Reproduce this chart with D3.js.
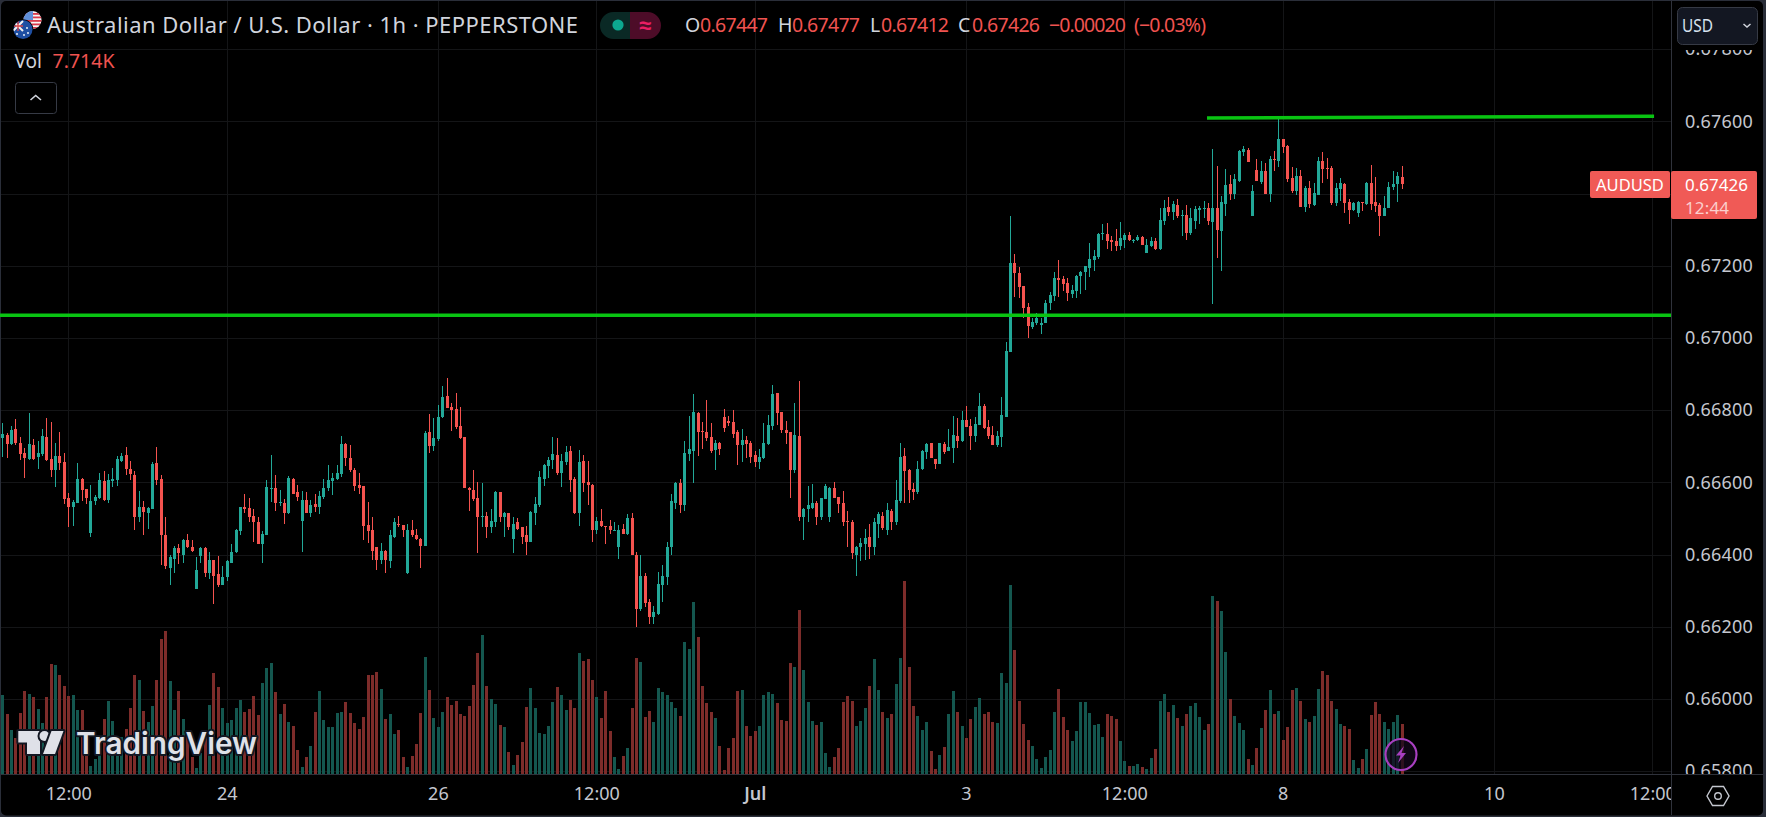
<!DOCTYPE html>
<html><head><meta charset="utf-8">
<style>
html,body{margin:0;padding:0;background:#2a2e39;overflow:hidden}
svg{display:block}
text{font-family:"Noto Sans",sans-serif}
</style>
<script src="https://cdnjs.cloudflare.com/ajax/libs/d3/7.8.5/d3.min.js"></script>
</head><body><svg id="c" width="1766" height="817"></svg>
<script>
// Prices are in points (1 point = 0.00001)
const highs=[66765,66737,66756,66776,66726,66696,66792,66720,66715,66748,66778,66767,66709,66740,66682,66571,66552,66654,66613,66582,66593,66566,66627,66632,66624,66640,66673,66682,66698,66660,66632,66577,66549,66533,66657,66698,66621,66505,66400,66425,66428,66444,66458,66439,66392,66420,66420,66408,66386,66397,66367,66386,66428,66472,66533,66569,66558,66527,66505,66466,66607,66676,66621,66580,66555,66618,66613,66593,66577,66574,66552,66569,66577,66610,66649,66627,66649,66729,66709,66704,66640,66627,66591,66546,66505,66422,66431,66414,66469,66502,66508,66483,66486,66497,66472,66447,66742,66789,66778,66814,
66867,66889,66820,66848,66809,66726,66588,66635,66602,66599,66519,66527,66577,66574,66519,66516,66503,66500,66475,66478,66522,66560,66632,66652,66671,66726,66723,66679,66701,66701,66616,66690,66676,66660,66596,66503,66525,66480,66497,66491,66483,66486,66511,66516,66406,66398,66348,66276,66257,66351,66370,66436,66569,66602,66610,66715,66784,66845,66795,66767,66828,66765,66718,66712,66803,66784,66801,66745,66748,66729,66715,66687,66693,66765,66787,66870,66848,66795,66770,66740,66820,66881,66530,66591,66596,66547,66558,66596,66588,66602,66560,66577,66522,66497,66425,66445,66472,66486,66500,66519,
66518,66543,66526,66606,66709,66695,66637,66598,66659,66689,66709,66709,66664,66709,66711,66747,66783,66778,66797,66811,66775,66780,66847,66816,66772,66755,66742,66836,66990,67338,67233,67197,67145,67098,67056,67070,67056,67106,67128,67183,67216,67172,67167,67147,67175,67186,67200,67263,67244,67291,67316,67319,67283,67302,67321,67291,67294,67274,67285,
67282,67273,67279,67276,67359,67382,67390,67379,67384,67354,67368,67359,67365,67365,67379,67373,67523,67476,67393,67468,67451,67454,67520,67531,67526,67423,67495,67490,67484,67504,67517,67609,67551,67534,67473,67470,67465,67420,67434,67429,67501,67515,67498,67476,67429,67443,67429,67384,67376,67379,67376,67431,67479,67445,67373,67393,67431,67462,67459,67477];
const lows=[66671,66668,66704,66704,66662,66613,66662,66662,66638,66673,66660,66615,66588,66635,66541,66475,66480,66544,66549,66541,66450,66538,66555,66549,66544,66588,66591,66657,66621,66607,66469,66489,66455,66472,66527,66593,66370,66359,66317,66350,66373,66378,66417,66408,66306,66378,66337,66331,66262,66309,66315,66328,66378,66403,66453,66516,66491,66436,66428,66378,66455,66546,66522,66535,66486,66513,66569,66549,66408,66516,66505,66519,66511,66555,66577,66566,66607,66615,66646,66629,66577,66569,66439,66431,66384,66356,66373,66350,66364,66447,66477,66450,66345,66450,66439,66362,66425,66682,66687,66715,
66779,66806,66743,66748,66721,66583,66522,66549,66403,66475,66445,66461,66475,66491,66450,66467,66403,66467,66428,66400,66436,66483,66533,66591,66613,66638,66621,66588,66649,66574,66511,66480,66574,66536,66434,66458,66475,66428,66458,66464,66389,66456,66453,66398,66199,66243,66254,66207,66207,66232,66268,66315,66398,66527,66516,66522,66660,66599,66674,66693,66715,66682,66635,66676,66740,66756,66723,66649,66657,66668,66654,66643,66638,66665,66704,66745,66759,66737,66707,66558,66627,66494,66439,66491,66527,66483,66497,66555,66491,66558,66516,66478,66422,66387,66342,66381,66384,66387,66398,66447,
66468,66454,66468,66482,66543,66543,66543,66551,66568,66634,66664,66667,66637,66651,66678,66686,66653,66695,66711,66753,66689,66711,66758,66747,66720,66703,66698,66698,66780,66960,67114,67111,67056,67001,67026,67037,67012,67040,67076,67103,67114,67131,67103,67111,67111,67123,67134,67169,67186,67219,67272,67247,67241,67241,67244,67250,67269,67263,67269,
67257,67234,67251,67243,67243,67312,67337,67326,67332,67282,67271,67284,67301,67315,67332,67312,67093,67221,67184,67337,67382,67384,67431,67504,67487,67337,67434,67426,67398,67376,67462,67473,67512,67431,67401,67395,67362,67348,67359,67365,67395,67429,67440,67368,67365,67379,67345,67315,67351,67334,67351,67368,67354,67348,67282,67337,67359,67409,67376,67412];
const opens=[66723,66731,66707,66748,66709,66682,66665,66704,66671,66679,66726,66665,66635,66673,66657,66558,66533,66544,66610,66582,66461,66549,66558,66604,66552,66604,66607,66660,66676,66638,66621,66505,66533,66516,66527,66654,66610,66455,66364,66389,66417,66400,66439,66422,66306,66395,66417,66348,66384,66345,66317,66337,66378,66406,66464,66533,66530,66508,66489,66428,66455,66582,66585,66544,66544,66516,66610,66574,66494,66552,66516,66541,66533,66560,66585,66604,66610,66624,66707,66668,66635,66593,66591,66483,66469,66420,66386,66411,66381,66450,66486,66483,66350,66469,66455,66444,66425,66740,66701,66720,
66781,66839,66809,66803,66756,66726,66585,66580,66558,66505,66508,66475,66491,66574,66503,66516,66442,66489,66475,66453,66436,66516,66538,66610,66646,66663,66676,66627,66657,66687,66610,66514,66660,66602,66594,66469,66494,66480,66480,66464,66422,66472,66458,66500,66400,66249,66340,66268,66227,66235,66315,66337,66420,66544,66599,66536,66679,66687,66792,66743,66740,66726,66690,66710,66781,66770,66767,66740,66704,66718,66710,66676,66657,66668,66707,66756,66848,66795,66745,66740,66635,66729,66503,66525,66530,66544,66505,66555,66505,66585,66560,66544,66494,66491,66400,66422,66428,66450,66422,66486,
66507,66468,66521,66490,66548,66673,66634,66582,66573,66637,66684,66709,66664,66651,66706,66686,66695,66728,66714,66772,66755,66728,66758,66811,66753,66731,66703,66725,66780,66962,67208,67181,67145,67087,67031,67040,67037,67040,67098,67117,67167,67164,67153,67123,67131,67172,67183,67194,67216,67225,67288,67288,67272,67269,67255,67272,67285,67271,67272,
67279,67234,67254,67268,67246,67323,67362,67348,67368,67337,67340,67290,67323,67354,67357,67359,67320,67359,67295,67370,67426,67398,67434,67515,67520,67337,67465,67431,67462,67398,67495,67490,67551,67531,67443,67406,67448,67362,67415,67368,67395,67490,67470,67470,67373,67412,67426,67376,67354,67345,67376,67370,67429,67376,67368,67337,67359,67418,67426,67447];
const closes=[66734,66707,66745,66709,66679,66668,66707,66665,66682,66729,66662,66635,66673,66654,66555,66533,66546,66610,66580,66558,66549,66560,66607,66552,66607,66610,66665,66673,66638,66624,66505,66533,66519,66530,66651,66607,66453,66367,66392,66417,66403,66439,66422,66411,66356,66417,66348,66386,66342,66317,66339,66381,66408,66469,66533,66527,66505,66489,66428,66458,66588,66585,66544,66546,66516,66613,66569,66560,66552,66516,66538,66533,66563,66585,66607,66613,66627,66707,66668,66635,66591,66585,66480,66466,66411,66386,66411,66384,66453,66489,66483,66469,66469,66453,66442,66425,66737,66701,66723,66781,
66836,66806,66801,66754,66723,66583,66580,66555,66503,66508,66475,66494,66574,66505,66516,66475,66486,66472,66450,66436,66519,66541,66616,66649,66663,66679,66627,66660,66685,66607,66514,66657,66599,66594,66469,66494,66478,66478,66467,66469,66469,66458,66500,66400,66249,66340,66265,66227,66240,66318,66342,66422,66549,66599,66538,66682,66693,66795,66740,66740,66723,66687,66710,66693,66751,66765,66734,66704,66718,66707,66671,66657,66671,66710,66759,66845,66792,66745,66737,66635,66732,66503,66525,66536,66544,66505,66558,66591,66585,66558,66541,66491,66489,66403,66422,66431,66447,66422,66489,66511,
66473,66523,66490,66551,66670,66631,66579,66573,66637,66686,66706,66667,66651,66709,66684,66697,66731,66714,66772,66753,66728,66761,66811,66750,66728,66703,66728,66786,66965,67208,67181,67142,67084,67034,67045,67054,67040,67098,67120,67167,67161,67150,67125,67134,67172,67183,67200,67219,67227,67288,67291,67269,67266,67255,67277,67285,67272,67272,67280,
67257,67257,67268,67246,67326,67359,67348,67370,67337,67340,67290,67332,67357,67359,67359,67323,67359,67298,67376,67423,67398,67440,67517,67523,67487,67406,67434,67462,67398,67495,67492,67551,67529,67440,67406,67448,67362,67415,67370,67401,67490,67468,67468,67373,67415,67429,67373,67354,67373,67376,67373,67429,67370,67365,67337,67359,67418,67426,67448,67426];
const volumes=[9480,7200,5280,4320,7320,9960,9600,9240,7800,6120,9240,13200,13080,11880,10560,9360,9480,7680,7680,5280,960,1800,2400,6600,8760,6360,4000,4400,5400,7920,11880,11280,7560,6240,8160,11280,16200,17160,11160,7680,9960,6600,5200,2000,720,2480,4400,8280,12120,10440,7920,6120,6480,7920,8880,7440,7800,9360,7080,10920,12720,13320,9840,7200,8400,6240,5760,2880,840,2040,3360,7440,9960,6480,5640,5640,7320,7440,8640,7320,6120,5400,6840,11880,11880,12240,10200,6600,7200,4800,5280,2040,840,2160,3600,7320,14040,10080,6720,5640,7440,9240,
8280,8760,7200,6960,8160,10680,14520,16680,10560,9000,8400,5880,5640,2640,1080,2280,3840,8040,10320,7920,4920,4800,5760,8640,10440,9480,7680,8880,7920,14520,13560,13800,11280,9240,6720,9960,5160,2040,600,2160,3120,7920,13920,13440,6840,7560,6240,10320,9840,9480,8640,7920,6960,15840,15000,20640,16440,10560,8520,7440,6720,3360,480,3120,4320,9960,10080,5760,4560,5160,5760,9480,9840,9600,8520,6480,6360,13320,12840,19680,12480,8640,6360,5880,6240,2520,840,2040,3120,8640,9360,8760,5760,6360,7920,10560,13800,10080,7440,6720,7200,10800,13920,
23160,12840,8160,6960,5280,6240,2760,600,2280,3240,7200,9960,7440,5760,4320,6600,8040,9120,7200,7440,6240,6120,12120,10920,22680,14880,8760,6000,4080,3360,1800,720,2040,2880,7440,10200,6840,5280,3960,5160,8640,8640,7320,5880,6000,4440,7200,6960,6600,3960,1560,960,960,1200,840,600,1920,3000,8760,9600,7440,8280,6720,5760,7200,8160,8520,6840,5280,6000,21360,20760,19560,14640,9000,6960,6120,5280,1800,1080,3120,5520,7680,10080,7200,7560,4080,5640,10080,10320,8760,6600,6240,6960,10200,12360,11880,8760,7800,6000,5760,5400,1680,720,1800,3000,7080,8640,7200,6240,5400,6240,7080,6000];
const priceTicks=[67800,67600,67400,67200,67000,66800,66600,66400,66200,66000,65800];
const priceLabelTicks=[67800,67600,67200,67000,66800,66600,66400,66200,66000,65800];
const timeTickIndex=[15,51,99,135,171,219,255,291,339,375];
const timeTickLabels=["12:00","24","26","12:00","Jul","3","12:00","8","10","12:00"];
const resistanceBars=[273.8,375.4], resistancePrices=[67609,67614];
const supportBars=[-1,380], supportPrices=[67063,67063];
const legendValues=["0.67447","0.67477","0.67412","0.67426"];

const UP="#22a898",DOWN="#f5534f",VUP="#14574f",VDOWN="#7d2c2a",GRID="#141517",LINE="#2f323b",TXT="#d1d4dc",LINEG="#09c412";
const svg=d3.select("#c");
const x=d3.scaleLinear().domain([0,375]).range([2.3,1652.3]);
const y=d3.scaleLinear().domain([65800,67600]).range([771.2,121.3]);
const v=d3.scaleLinear().domain([0,24000]).range([774,574]);
const px=i=>Math.round(x(i));
const W=1671,H=774;

const defs=svg.append("defs");
defs.append("clipPath").attr("id","pane").append("rect").attr("width",W).attr("height",H);
defs.append("clipPath").attr("id","pr").append("rect").attr("x",W).attr("y",50).attr("width",92).attr("height",H-50);
defs.append("clipPath").attr("id","tm").append("rect").attr("y",H).attr("width",W).attr("height",40);
defs.append("clipPath").attr("id","us").append("circle").attr("cx",32.5).attr("cy",20).attr("r",9);
defs.append("clipPath").attr("id","au").append("circle").attr("cx",23).attr("cy",29.5).attr("r",9.5);

svg.append("rect").attr("x",1).attr("y",1).attr("width",1762).attr("height",814.5).attr("rx",5).attr("fill","#000");

const crisp=svg.append("g").attr("shape-rendering","crispEdges");
crisp.selectAll(".gh").data(priceTicks).join("line").attr("x1",1).attr("x2",W).attr("y1",d=>Math.round(y(d))+.5).attr("y2",d=>Math.round(y(d))+.5).attr("stroke",GRID);
crisp.selectAll(".gv").data(timeTickIndex).join("line").attr("y1",1).attr("y2",H).attr("x1",d=>px(d)+.5).attr("x2",d=>px(d)+.5).attr("stroke",GRID);

const idx=d3.range(closes.length);
const isUp=i=>closes[i]>=opens[i];
const pane=svg.append("g").attr("clip-path","url(#pane)").attr("shape-rendering","crispEdges");
pane.selectAll(".vol").data(idx).join("rect").attr("x",i=>px(i)-1).attr("width",3)
  .attr("y",i=>Math.round(v(volumes[i]))).attr("height",i=>H-Math.round(v(volumes[i]))).attr("fill",i=>isUp(i)?VUP:VDOWN);
pane.selectAll(".wick").data(idx).join("rect").attr("x",i=>px(i)).attr("width",1)
  .attr("y",i=>Math.round(y(highs[i]))).attr("height",i=>Math.max(1,Math.round(y(lows[i]))-Math.round(y(highs[i])))).attr("fill",i=>isUp(i)?UP:DOWN);
pane.selectAll(".body").data(idx).join("rect").attr("x",i=>px(i)-1).attr("width",3)
  .attr("y",i=>Math.round(y(Math.max(opens[i],closes[i]))))
  .attr("height",i=>Math.max(1,Math.round(y(Math.min(opens[i],closes[i])))-Math.round(y(Math.max(opens[i],closes[i])))))
  .attr("fill",i=>isUp(i)?UP:DOWN);

const trend=d3.line().x(d=>x(d[0])).y(d=>y(d[1]));
const lines=svg.append("g").attr("clip-path","url(#pane)").attr("fill","none").attr("stroke",LINEG).attr("stroke-width",3.4);
lines.append("path").attr("d",trend(d3.zip(resistanceBars,resistancePrices)));
lines.append("path").attr("d",trend(d3.zip(supportBars,supportPrices)));

// Axes
const yAxis=svg.append("g").attr("clip-path","url(#pr)").append("g").attr("transform",`translate(${W},0)`)
  .call(d3.axisRight(y).tickValues(priceLabelTicks).tickSize(0).tickPadding(14).tickFormat(d=>(d/1e5).toFixed(5)));
yAxis.select(".domain").remove();
yAxis.selectAll("text").attr("fill","#c4c7cf").attr("font-size",18).attr("font-family",'"Noto Sans",sans-serif').attr("letter-spacing",".2");
const xAxis=svg.append("g").attr("clip-path","url(#tm)").append("g").attr("transform",`translate(0,${H})`)
  .call(d3.axisBottom(x).tickValues(timeTickIndex).tickSize(0).tickPadding(13).tickFormat((d,i)=>timeTickLabels[i]));
xAxis.select(".domain").remove();
xAxis.selectAll("text").attr("fill","#c4c7cf").attr("font-size",18).attr("font-family",'"Noto Sans",sans-serif')
  .attr("font-weight",(d,i)=>timeTickLabels[i]==="Jul"?600:400);

const frame=svg.append("g").attr("shape-rendering","crispEdges").attr("stroke",LINE);
frame.append("line").attr("x1",W+.5).attr("x2",W+.5).attr("y1",1).attr("y2",815);
frame.append("line").attr("x1",1).attr("x2",1763).attr("y1",H+.5).attr("y2",H+.5);

// Legend
function t(s,xp,yp,size,fill,opt={}){const e=svg.append("text").attr("x",xp).attr("y",yp).attr("font-size",size).attr("fill",fill).text(s);
  Object.entries(opt).forEach(([k,val])=>e.attr(k,val));return e;}
t("Australian Dollar / U.S. Dollar · 1h · PEPPERSTONE",47,33,22,TXT,{textLength:531,lengthAdjust:"spacing"});
t("Vol",14.5,68,19,TXT);
t("7.714K",52.5,68,19.5,"#f05350",{textLength:62,lengthAdjust:"spacing"});
const lx=[685,778,870,958],vx=[700,792,881,972],ln=["O","H","L","C"];
ln.forEach((s,i)=>{t(s,lx[i],32,19.5,TXT);t(legendValues[i],vx[i],32,19.5,"#f05350",{textLength:68,lengthAdjust:"spacing"});});
t("−0.00020",1049,32,19.5,"#f05350",{textLength:77,lengthAdjust:"spacing"});
t("(−0.03%)",1134,32,19.5,"#f05350",{textLength:72,lengthAdjust:"spacing"});

// pill
svg.append("path").attr("d","M631,12H613.5a13.5,13.5 0 0 0 0,27H631Z").attr("fill","#0a2925");
svg.append("path").attr("d","M630,12H647.5a13.5,13.5 0 0 1 0,27H630Z").attr("fill","#4d0c28");
svg.append("circle").attr("cx",618).attr("cy",25).attr("r",5.6).attr("fill","#0ca88f");
t("≈",645,32.5,22,"#e91e63",{"text-anchor":"middle","font-weight":700});

// collapse button
svg.append("rect").attr("x",15.5).attr("y",82.5).attr("width",41).attr("height",31).attr("rx",3).attr("fill","none").attr("stroke","#363a45");
svg.append("path").attr("d","M30.5,100L35.7,95.5L41,100").attr("fill","none").attr("stroke",TXT).attr("stroke-width",1.6);

// currency button
svg.append("rect").attr("x",1677.5).attr("y",7.5).attr("width",80).attr("height",37).attr("rx",5).attr("fill","#131722").attr("stroke","#363a45");
t("USD",1682,32,18,"#d6e1ee",{textLength:31,lengthAdjust:"spacingAndGlyphs"});
svg.append("path").attr("d","M1743.5,24L1747,27L1750.5,24").attr("fill","none").attr("stroke",TXT).attr("stroke-width",1.5);

// last price tags
svg.append("rect").attr("x",1590).attr("y",171).attr("width",80).attr("height",27).attr("rx",2).attr("fill","#f05a56");
t("AUDUSD",1630,190.5,16.5,"#fff",{"text-anchor":"middle"});
svg.append("rect").attr("x",1671).attr("y",171).attr("width",86).attr("height",48).attr("rx",2).attr("fill","#f05a56");
t("0.67426",1685,191,17,"#fff",{textLength:63,lengthAdjust:"spacing"});
t("12:44",1685,213.5,17,"#fbcfcd",{textLength:44,lengthAdjust:"spacing"});

// settings icon
svg.append("path").attr("d","M1707,796L1712.5,786.5H1723.5L1729,796L1723.5,805.5H1712.5Z").attr("fill","none").attr("stroke","#c4c7cf").attr("stroke-width",1.4);
svg.append("circle").attr("cx",1718).attr("cy",796).attr("r",3.3).attr("fill","none").attr("stroke","#c4c7cf").attr("stroke-width",1.4);

// flags
const us=svg.append("g").attr("clip-path","url(#us)");
us.append("rect").attr("x",23).attr("y",11).attr("width",19).attr("height",18).attr("fill","#f5f5f5");
[13,16.5,20,23.5,27].forEach(s=>us.append("rect").attr("x",23).attr("y",s).attr("width",19).attr("height",1.8).attr("fill","#d9384a"));
us.append("rect").attr("x",23).attr("y",11).attr("width",10).attr("height",9).attr("fill","#5f8fd9");
svg.append("circle").attr("cx",23).attr("cy",29.5).attr("r",10.3).attr("fill","#000");
const au=svg.append("g").attr("clip-path","url(#au)");
au.append("rect").attr("x",13).attr("y",19).attr("width",20).attr("height",21).attr("fill","#1e4fa3");
au.append("path").attr("d","M13,21L23,31M23,21L13,31").attr("stroke","#f2f2f2").attr("stroke-width",2);
au.append("path").attr("d","M18,20V31M13,26H23").attr("stroke","#e04a4a").attr("stroke-width",1.3);
[[27,28],[28,33],[24,35],[17,34]].forEach(p=>au.append("circle").attr("cx",p[0]).attr("cy",p[1]).attr("r",.9).attr("fill","#fff"));

// TradingView mark
const logo=svg.append("g").attr("fill","#dfe1e8").attr("stroke","#131722").attr("stroke-width",4).attr("paint-order","stroke").attr("stroke-linejoin","round");
logo.append("path").attr("d","M18.3,731H40V754H27V742.5H18.3Z");
logo.append("circle").attr("cx",44.5).attr("cy",736).attr("r",5);
logo.append("path").attr("d","M63.5,731L55,754H43L51.5,731Z");
t("TradingView",76,754,30,"#dfe1e8",{"font-weight":600,textLength:181,lengthAdjust:"spacingAndGlyphs",stroke:"#131722","stroke-width":4,"paint-order":"stroke","stroke-linejoin":"round"}).style("font-family","Inter,sans-serif");

// bolt badge
svg.append("circle").attr("cx",1401).attr("cy",754.5).attr("r",15.5).attr("fill","rgba(20,8,28,.75)").attr("stroke","#a83fc0").attr("stroke-width",2.2);
svg.append("path").attr("d","M1404,746L1396,755.5H1400.5L1398,763L1406,753H1401.5Z").attr("fill","#a83fc0");
</script></body></html>
